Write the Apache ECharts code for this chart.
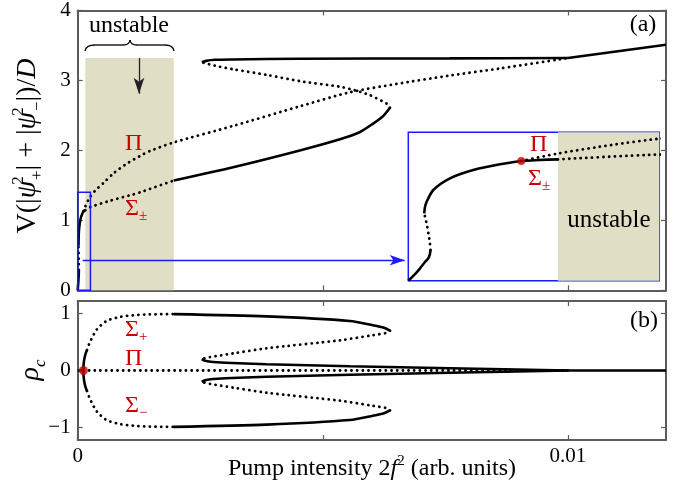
<!DOCTYPE html>
<html>
<head>
<meta charset="utf-8">
<script src="https://cdn.jsdelivr.net/npm/echarts@6/dist/echarts.min.js"></script>
<style>
  html, body { margin: 0; padding: 0; background: #fff; }
  #chart { width: 696px; height: 489px; }
</style>
</head>
<body>
<div id="chart"></div>
<script>
// ---------- panel (a): V(|psi+^2|+|psi-^2|)/D versus pump intensity 2f^2 ----------
// low-intensity branch (S-shaped), shared by the main plot and the zoomed inset
const lowStableA   = [[0,0],[0.000007,0.063],[0.0000122,0.117],[0.0000173,0.176],[0.0000207,0.211],[0.0000224,0.25],[0.000023,0.29]];
const lowUnstable  = [[0.000023,0.29],[0.0000224,0.35],[0.0000217,0.40],[0.0000193,0.525],[0.0000165,0.636]];
const lowStableB   = [[0.0000165,0.636],[0.0000172,0.69],[0.000019,0.745],[0.0000259,0.856],[0.0000432,0.966],[0.0000673,1.044],[0.000095,1.098],[0.000117,1.129]];
// Sigma(+/-) elliptical branch
const sigmaStableNear = [[0.000117,1.129],[0.000136,1.139],[0.000155,1.145]];
const sigmaUnstable   = [[0.000155,1.145],[0.00026,1.19],[0.00066,1.28],[0.00113,1.37],[0.00127,1.40],[0.00196,1.57]];
const sigmaStableMid  = [[0.00196,1.57],[0.00317,1.76],[0.00453,2.0],[0.00535,2.16],[0.00575,2.26],[0.00602,2.38],[0.00623,2.49],[0.00637,2.61]];
const upperUnstable   = [[0.00637,2.61],[0.00632,2.66],[0.00622,2.70],[0.00596,2.79],[0.00565,2.86],[0.00535,2.91],[0.00453,2.99],[0.00385,3.08],[0.00317,3.16],[0.0028,3.21],[0.00253,3.26]];
const upperStable     = [[0.00253,3.26],[0.00262,3.28],[0.0028,3.295],[0.00317,3.30],[0.00453,3.31],[0.00759,3.315],[0.01,3.32]];
// Pi (linear polarisation) branch
const piUnstable = [[0.000117,1.129],[0.000155,1.20],[0.00021,1.28],[0.00026,1.34],[0.00035,1.42],[0.00052,1.53],[0.000725,1.67],[0.001,1.81],[0.00127,1.92],[0.00147,1.99],[0.00194,2.11],[0.00317,2.35],[0.00453,2.63],[0.00555,2.83],[0.0065,2.95],[0.00759,3.07],[0.0086,3.17],[0.01,3.32]];
const piStable   = [[0.01,3.32],[0.012,3.51]];
const bifurcationPoint = [[0.000117,1.129]];

// ---------- panel (b): circular polarisation degree rho_c ----------
const rhoZeroStableLow = [[0,0],[0.000117,0]];
const rhoPiUnstable    = [[0.000117,0],[0.01,0]];
const rhoPiStable      = [[0.01,0],[0.012,0]];
const rhoPlusArc       = [[0.000117,0],[0.00012,0.1],[0.000135,0.2],[0.00016,0.29],[0.00019,0.36]];
const rhoPlusUnstable  = [[0.00019,0.36],[0.00025,0.5],[0.00039,0.72],[0.00059,0.87],[0.00086,0.94],[0.0012,0.975],[0.00147,0.985],[0.00196,0.99]];
const rhoPlusStable    = [[0.00196,0.99],[0.00385,0.95],[0.00555,0.87],[0.00602,0.795],[0.00625,0.75],[0.00637,0.70]];
const rhoPlusBack      = [[0.00637,0.70],[0.0063,0.66],[0.00602,0.62],[0.00535,0.53],[0.00385,0.39],[0.00317,0.30],[0.0027,0.235],[0.00253,0.20]];
const rhoPlusUpper     = [[0.00253,0.20],[0.0026,0.17],[0.00276,0.15],[0.00385,0.11],[0.00555,0.075],[0.00759,0.04],[0.01,0]];
const rhoMinusArc      = [[0.000117,0],[0.00012,-0.1],[0.000135,-0.2],[0.00016,-0.29],[0.00019,-0.36]];
const rhoMinusUnstable = [[0.00019,-0.36],[0.00025,-0.5],[0.00039,-0.72],[0.00059,-0.87],[0.00086,-0.94],[0.0012,-0.975],[0.00147,-0.985],[0.00196,-0.99]];
const rhoMinusStable   = [[0.00196,-0.99],[0.00385,-0.95],[0.00555,-0.87],[0.00602,-0.795],[0.00625,-0.75],[0.00637,-0.70]];
const rhoMinusBack     = [[0.00637,-0.70],[0.0063,-0.66],[0.00602,-0.62],[0.00535,-0.53],[0.00385,-0.39],[0.00317,-0.30],[0.0027,-0.235],[0.00253,-0.20]];
const rhoMinusUpper    = [[0.00253,-0.20],[0.0026,-0.17],[0.00276,-0.15],[0.00385,-0.11],[0.00555,-0.075],[0.00759,-0.04],[0.01,0]];
const rhoBifurcation   = [[0.000117,0]];

// ---------- axes / regions ----------
const xTicks = [0, 0.005, 0.01];
const xTickLabels = [0, 0.01];
const rhoTicks = [-1, 0, 1];
const unstableRange = [0.000155, 0.00196];   // Sigma(+/-) unstable window
const unstableTop = 3.32;
const insetRangeX = [0, 0.00026];
const insetRangeY = [0, 1.4];

const FONT = 'Liberation Serif';
const AXIS_GRAY = '#5c5c5c';
const RED = '#cc0000';
const BLUE = '#1a1aff';

const chart = echarts.init(document.getElementById('chart'), null, { renderer: 'canvas' });

const solidStyle = { color: '#000', width: 2.6 };
const dotStyle = { color: '#000', width: 2.8, type: [0.1, 5.6], cap: 'round' };

function curve(data, dotted, xi, yi, z) {
  return {
    type: 'line', data: data, xAxisIndex: xi, yAxisIndex: yi,
    symbol: 'none', smooth: 0.25, clip: true, silent: true,
    lineStyle: dotted ? dotStyle : solidStyle, z: z || 3
  };
}

function frameAxis(base) {
  return Object.assign({
    type: 'value',
    axisLine: { show: true, onZero: false, lineStyle: { color: AXIS_GRAY, width: 2 } },
    axisTick: { show: true, inside: true, length: 5, lineStyle: { color: AXIS_GRAY, width: 1.2 } },
    axisLabel: { show: false },
    splitLine: { show: false }
  }, base);
}

const tickLabelStyle = { color: '#000', fontFamily: FONT, fontSize: 21 };

const series = [];
// panel (a) main curves
[ [lowStableA,false],[lowUnstable,true],[lowStableB,false],[sigmaStableNear,false],[sigmaUnstable,true],
  [sigmaStableMid,false],[upperUnstable,true],[upperStable,false],[piUnstable,true],[piStable,false]
].forEach(function (c) { series.push(curve(c[0], c[1], 0, 0)); });
// panel (a) inset curves
[ [lowStableA,false],[lowUnstable,true],[lowStableB,false],[sigmaStableNear,false],[sigmaUnstable,true],[piUnstable,true]
].forEach(function (c) { series.push(curve(c[0], c[1], 4, 4, 7)); });
// panel (b)
[ [rhoZeroStableLow,false],[rhoPiUnstable,true],[rhoPiStable,false],
  [rhoPlusArc,false],[rhoPlusUnstable,true],[rhoPlusStable,false],[rhoPlusBack,true],[rhoPlusUpper,false],
  [rhoMinusArc,false],[rhoMinusUnstable,true],[rhoMinusStable,false],[rhoMinusBack,true],[rhoMinusUpper,false]
].forEach(function (c) { series.push(curve(c[0], c[1], 2, 2)); });

// shaded unstable window, blue zoom box and arrows in panel (a)
series.push({
  type: 'line', data: [], xAxisIndex: 0, yAxisIndex: 0, silent: true, z: 1,
  markArea: {
    silent: true, z: 1,
    itemStyle: { color: '#e0dfc5' },
    data: [[{ xAxis: unstableRange[0], yAxis: 0 }, { xAxis: unstableRange[1], yAxis: unstableTop }]]
  }
});
series.push({
  type: 'line', data: [], xAxisIndex: 0, yAxisIndex: 0, silent: true, z: 4,
  markArea: {
    silent: true, z: 4,
    itemStyle: { color: 'rgba(0,0,0,0)', borderColor: BLUE, borderWidth: 1.5 },
    data: [[{ xAxis: insetRangeX[0], yAxis: insetRangeY[0] }, { xAxis: insetRangeX[1], yAxis: insetRangeY[1] }]]
  },
  markLine: {
    silent: true, animation: false,
    label: { show: false },
    data: [
      [{ coord: [0.0001, 0.43], symbol: 'none', lineStyle: { color: BLUE, width: 1.3, type: 'solid' } },
       { coord: [0.00667, 0.43], symbol: 'arrow', symbolSize: [8, 15] }],
      [{ coord: [0.00125, unstableTop], symbol: 'none', lineStyle: { color: '#222', width: 1.3, type: 'solid' } },
       { coord: [0.00125, 2.81], symbol: 'arrow', symbolSize: [8, 16] }]
    ]
  }
});
// inset shading
series.push({
  type: 'line', data: [], xAxisIndex: 4, yAxisIndex: 4, silent: true, z: 6,
  markArea: {
    silent: true, z: 6,
    itemStyle: { color: '#e0dfc5' },
    data: [[{ xAxis: unstableRange[0], yAxis: insetRangeY[0] }, { xAxis: insetRangeX[1], yAxis: insetRangeY[1] }]]
  }
});
// bifurcation points
series.push({ type: 'scatter', data: bifurcationPoint, xAxisIndex: 4, yAxisIndex: 4, symbolSize: 8,
  itemStyle: { color: RED }, z: 9, silent: true });
series.push({ type: 'scatter', data: rhoBifurcation, xAxisIndex: 2, yAxisIndex: 2, symbolSize: 9,
  itemStyle: { color: RED }, z: 9, silent: true });

const richMath = {
  n:  { fontFamily: FONT, fontSize: 28, lineHeight: 36, fill: '#000' },
  i:  { fontFamily: FONT, fontSize: 28, lineHeight: 36, fontStyle: 'italic', fill: '#000' },
  sp: { fontFamily: FONT, fontSize: 17, lineHeight: 17, verticalAlign: 'top', fill: '#000', width: 1 },
  sb: { fontFamily: FONT, fontSize: 17, lineHeight: 17, verticalAlign: 'bottom', fill: '#000' },
  sbi:{ fontFamily: FONT, fontSize: 17, lineHeight: 17, verticalAlign: 'bottom', fontStyle: 'italic', fill: '#000' }
};
const richAxisX = {
  n:  { fontFamily: FONT, fontSize: 24, lineHeight: 30, fill: '#000' },
  i:  { fontFamily: FONT, fontSize: 24, lineHeight: 30, fontStyle: 'italic', fill: '#000' },
  sp: { fontFamily: FONT, fontSize: 15, lineHeight: 15, verticalAlign: 'top', fill: '#000' }
};
const richRed = {
  g: { fontFamily: FONT, fontSize: 24, lineHeight: 30, fill: RED },
  s: { fontFamily: FONT, fontSize: 15, lineHeight: 14, verticalAlign: 'bottom', fill: RED }
};

function txt(x, y, text, size) {
  return { type: 'text', x: x, y: y, silent: true, z: 20,
    style: { text: text, fontFamily: FONT, fontSize: size, fill: '#000', align: 'center', verticalAlign: 'middle' } };
}
function redLabel(x, y, text) {
  return { type: 'text', x: x, y: y, silent: true, z: 20,
    style: { text: text, rich: richRed, fill: RED, align: 'left', verticalAlign: 'middle' } };
}
// curly brace above the unstable window, built from quadratic pieces and straight runs
const braceStyle = { stroke: '#000', lineWidth: 1.3, fill: null };
function qpiece(x1, y1, cx, cy, x2, y2) {
  return { type: 'bezierCurve', silent: true, z: 20, style: braceStyle,
    shape: { x1: x1, y1: y1, cpx1: cx, cpy1: cy, x2: x2, y2: y2 } };
}
function seg(x1, y1, x2, y2) {
  return { type: 'line', silent: true, z: 20, style: braceStyle,
    shape: { x1: x1, y1: y1, x2: x2, y2: y2 } };
}

const graphic = [
  // axis titles
  { type: 'text', x: 28, y: 146, rotation: Math.PI / 2, silent: true, z: 20,
    style: { text: '{n|V(|}{i|ψ}{sp|2}{sb|+}{n|| + |}{i|ψ}{sp|2}{sb|−}{n||)/}{i|D}', rich: richMath, align: 'center', verticalAlign: 'middle' } },
  { type: 'text', x: 31, y: 370, rotation: Math.PI / 2, silent: true, z: 20,
    style: { text: '{i|ρ}{sbi|c}', rich: richMath, align: 'center', verticalAlign: 'middle' } },
  { type: 'text', x: 372, y: 469, silent: true, z: 20,
    style: { text: '{n|Pump intensity 2}{i|f}{sp|2}{n| (arb. units)}', rich: richAxisX, align: 'center', verticalAlign: 'middle' } },
  // panel tags
  txt(643, 25, '(a)', 24),
  txt(644, 321, '(b)', 24),
  // unstable annotations
  txt(129, 26, 'unstable', 24),
  txt(609, 220, 'unstable', 25),
  qpiece(85, 51, 86, 45, 95, 45),
  seg(95, 45, 123, 45),
  qpiece(123, 45, 129.5, 45, 130, 40),
  qpiece(130, 40, 130.5, 45, 137, 45),
  seg(137, 45, 165, 45),
  qpiece(165, 45, 173, 45, 174, 51),
  // branch labels
  redLabel(125, 144, '{g|Π}'),
  redLabel(125, 209, '{g|Σ}{s|±}'),
  redLabel(530, 145, '{g|Π}'),
  redLabel(528, 179, '{g|Σ}{s|±}'),
  redLabel(125, 330, '{g|Σ}{s|+}'),
  redLabel(125, 359, '{g|Π}'),
  redLabel(125, 406, '{g|Σ}{s|−}')
];

const option = {
  animation: false,
  textStyle: { fontFamily: FONT },
  grid: [
    { left: 77.7, top: 9, width: 588.3, height: 281.3, show: false },
    { left: 77.7, top: 301, width: 588.3, height: 139, show: false },
    { left: 408.3, top: 132.3, width: 251, height: 148.4, show: true, z: 5,
      borderColor: BLUE, borderWidth: 1.5, backgroundColor: '#fff' }
  ],
  xAxis: [
    frameAxis({ gridIndex: 0, position: 'bottom', min: 0, max: 0.012,
      axisTick: { show: true, inside: true, length: 5, customValues: xTicks, lineStyle: { color: AXIS_GRAY, width: 1.2 } } }),
    frameAxis({ gridIndex: 0, position: 'top', min: 0, max: 0.012,
      axisTick: { show: true, inside: true, length: 5, customValues: xTicks, lineStyle: { color: AXIS_GRAY, width: 1.2 } } }),
    frameAxis({ gridIndex: 1, position: 'bottom', min: 0, max: 0.012,
      axisTick: { show: true, inside: true, length: 5, customValues: xTicks, lineStyle: { color: AXIS_GRAY, width: 1.2 } },
      axisLabel: Object.assign({ show: true, margin: 6, customValues: xTickLabels,
        formatter: function (v) { return v === 0 ? '0' : String(v); } }, tickLabelStyle) }),
    frameAxis({ gridIndex: 1, position: 'top', min: 0, max: 0.012,
      axisTick: { show: true, inside: true, length: 5, customValues: xTicks, lineStyle: { color: AXIS_GRAY, width: 1.2 } } }),
    { type: 'value', gridIndex: 2, min: insetRangeX[0], max: insetRangeX[1], show: false }
  ],
  yAxis: [
    frameAxis({ gridIndex: 0, position: 'left', min: 0, max: 4, interval: 1,
      axisLabel: Object.assign({ show: true, margin: 7 }, tickLabelStyle) }),
    frameAxis({ gridIndex: 0, position: 'right', min: 0, max: 4, interval: 1 }),
    frameAxis({ gridIndex: 1, position: 'left', min: -1.22, max: 1.22,
      axisTick: { show: true, inside: true, length: 5, customValues: rhoTicks, lineStyle: { color: AXIS_GRAY, width: 1.2 } },
      axisLabel: Object.assign({ show: true, margin: 7, customValues: rhoTicks,
        formatter: function (v) { return v < 0 ? '−' + Math.abs(v) : String(v); } }, tickLabelStyle) }),
    frameAxis({ gridIndex: 1, position: 'right', min: -1.22, max: 1.22,
      axisTick: { show: true, inside: true, length: 5, customValues: rhoTicks, lineStyle: { color: AXIS_GRAY, width: 1.2 } } }),
    { type: 'value', gridIndex: 2, min: insetRangeY[0], max: insetRangeY[1], show: false }
  ],
  series: series,
  graphic: graphic
};

chart.setOption(option);
</script>
</body>
</html>
